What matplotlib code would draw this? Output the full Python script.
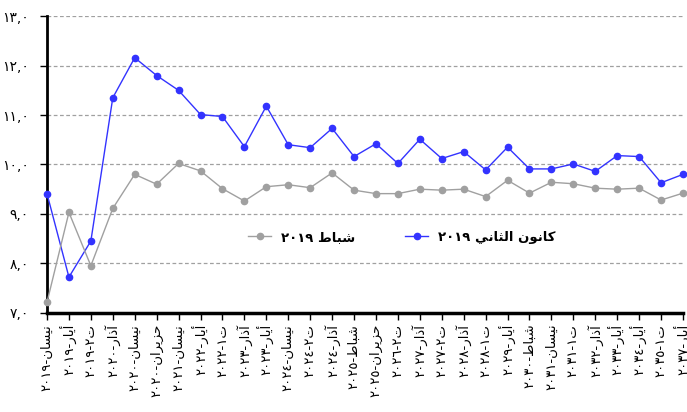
import matplotlib
matplotlib.use("Agg")
from matplotlib import pyplot as plt

# category labels (logical order, as typed in the sheet)
months = [
    "نيسان-٢٠١٩", "أيار-٢٠١٩", "ت٢-٢٠١٩", "آذار-٢٠٢٠", "نيسان-٢٠٢٠",
    "حزيران-٢٠٢٠", "نيسان-٢٠٢١", "أيار-٢٠٢٢", "ت١-٢٠٢٢", "آذار-٢٠٢٣",
    "أيار-٢٠٢٣", "نيسان-٢٠٢٤", "ت٢-٢٠٢٤", "آذار-٢٠٢٤", "شباط-٢٠٢٥",
    "حزيران-٢٠٢٥", "ت٢-٢٠٢٦", "آذار-٢٠٢٧", "ت٢-٢٠٢٧", "آذار-٢٠٢٨",
    "ت١-٢٠٢٨", "أيار-٢٠٢٩", "شباط-٢٠٣٠", "نيسان-٢٠٣١", "ت١-٢٠٣١",
    "آذار-٢٠٣٢", "أيار-٢٠٣٣", "أيار-٢٠٣٤", "ت١-٢٠٣٥", "أيار-٢٠٣٧",
]

jan_2019 = [9.41, 7.72, 8.45, 11.35, 12.16, 11.80, 11.50, 11.01, 10.97, 10.36,
            11.18, 10.40, 10.34, 10.73, 10.16, 10.42, 10.02, 10.51, 10.12, 10.26,
            9.89, 10.35, 9.91, 9.91, 10.01, 9.86, 10.18, 10.16, 9.63, 9.80]
feb_2019 = [7.21, 9.03, 7.95, 9.11, 9.80, 9.60, 10.02, 9.87, 9.51, 9.26,
            9.55, 9.59, 9.53, 9.83, 9.48, 9.41, 9.41, 9.50, 9.48, 9.50,
            9.35, 9.68, 9.42, 9.64, 9.61, 9.52, 9.50, 9.52, 9.28, 9.42]

jan_name = "كانون الثاني ٢٠١٩"
feb_name = "شباط ٢٠١٩"

y_ticks = [7, 8, 9, 10, 11, 12, 13]

# matplotlib 3.10 does no arabic shaping, so do it by hand
FORMS = {
    'ا': (0xFE8D, 0xFE8E), 'أ': (0xFE83, 0xFE84), 'آ': (0xFE81, 0xFE82),
    'ذ': (0xFEAB, 0xFEAC), 'ر': (0xFEAD, 0xFEAE), 'ز': (0xFEAF, 0xFEB0),
    'و': (0xFEED, 0xFEEE),
    'ب': (0xFE8F, 0xFE90, 0xFE91, 0xFE92), 'ت': (0xFE95, 0xFE96, 0xFE97, 0xFE98),
    'ث': (0xFE99, 0xFE9A, 0xFE9B, 0xFE9C), 'ح': (0xFEA1, 0xFEA2, 0xFEA3, 0xFEA4),
    'س': (0xFEB1, 0xFEB2, 0xFEB3, 0xFEB4), 'ش': (0xFEB5, 0xFEB6, 0xFEB7, 0xFEB8),
    'ط': (0xFEC1, 0xFEC2, 0xFEC3, 0xFEC4), 'ك': (0xFED9, 0xFEDA, 0xFEDB, 0xFEDC),
    'ل': (0xFEDD, 0xFEDE, 0xFEDF, 0xFEE0), 'ن': (0xFEE5, 0xFEE6, 0xFEE7, 0xFEE8),
    'ي': (0xFEF1, 0xFEF2, 0xFEF3, 0xFEF4),
}
DIGITS = set("٠١٢٣٤٥٦٧٨٩0123456789")


def shape(text):
    out = []
    for i, ch in enumerate(text):
        if ch not in FORMS:
            out.append(ch)
            continue
        prev = text[i - 1] if i > 0 else ''
        nxt = text[i + 1] if i + 1 < len(text) else ''
        join_prev = prev in FORMS and len(FORMS[prev]) == 4
        join_next = nxt in FORMS and len(FORMS[ch]) == 4
        f = FORMS[ch]
        if join_prev and join_next:
            out.append(chr(f[3]))
        elif join_prev:
            out.append(chr(f[1]))
        elif join_next:
            out.append(chr(f[2]))
        else:
            out.append(chr(f[0]))
    return ''.join(out)


def visual(text):
    # split into digit runs and other runs, then lay out right to left
    runs = []
    for ch in text:
        is_digit = ch in DIGITS
        if runs and runs[-1][0] == is_digit:
            runs[-1][1] += ch
        else:
            runs.append([is_digit, ch])
    parts = []
    for is_digit, s in reversed(runs):
        parts.append(s if is_digit else shape(s)[::-1])
    return ''.join(parts)


def arabic_num(v):
    s = f"{v:.1f}".replace('.', ',')
    return s.translate(str.maketrans("0123456789", "٠١٢٣٤٥٦٧٨٩"))


plt.rcParams['font.family'] = ['DejaVu Sans']

fig = plt.figure(figsize=(6.87, 4.12), dpi=100, facecolor='white')
ax = fig.add_axes([0.0684, 0.2410, 0.9258, 0.7196])

x = list(range(len(months)))
blue, = ax.plot(x, jan_2019, color='#3333ff', linewidth=1.0, marker='o',
                markersize=4.5, clip_on=False, zorder=3)
grey, = ax.plot(x, feb_2019, color='#a0a0a0', linewidth=1.0, marker='o',
                markersize=4.5, clip_on=False, zorder=3)

ax.set_xlim(0, len(months) - 1)
ax.set_ylim(7, 13)
ax.set_yticks(y_ticks)
ax.set_yticklabels([arabic_num(v) for v in y_ticks], fontsize=10)
ax.set_xticks(x)
ax.set_xticklabels([visual(m) for m in months], rotation=90, fontsize=9.5)

ax.yaxis.grid(True, linestyle=(0, (3, 2)), color='#a0a0a0', linewidth=0.9)
ax.set_axisbelow(True)
for side in ('top', 'right'):
    ax.spines[side].set_visible(False)
ax.spines['left'].set_linewidth(2)
ax.spines['bottom'].set_linewidth(2.5)
ax.tick_params(axis='y', length=5, width=1, pad=8)
ax.tick_params(axis='x', length=5, width=1, pad=3)

ax.legend([grey, blue], [visual(feb_name), visual(jan_name)], ncol=2,
          loc='center', bbox_to_anchor=(0.558, 0.255), frameon=False,
          prop={'weight': 'bold', 'size': 9.5}, handlelength=1.75,
          handletextpad=0.75, columnspacing=3.8)

fig.savefig('out.png', dpi=100, facecolor='white')
